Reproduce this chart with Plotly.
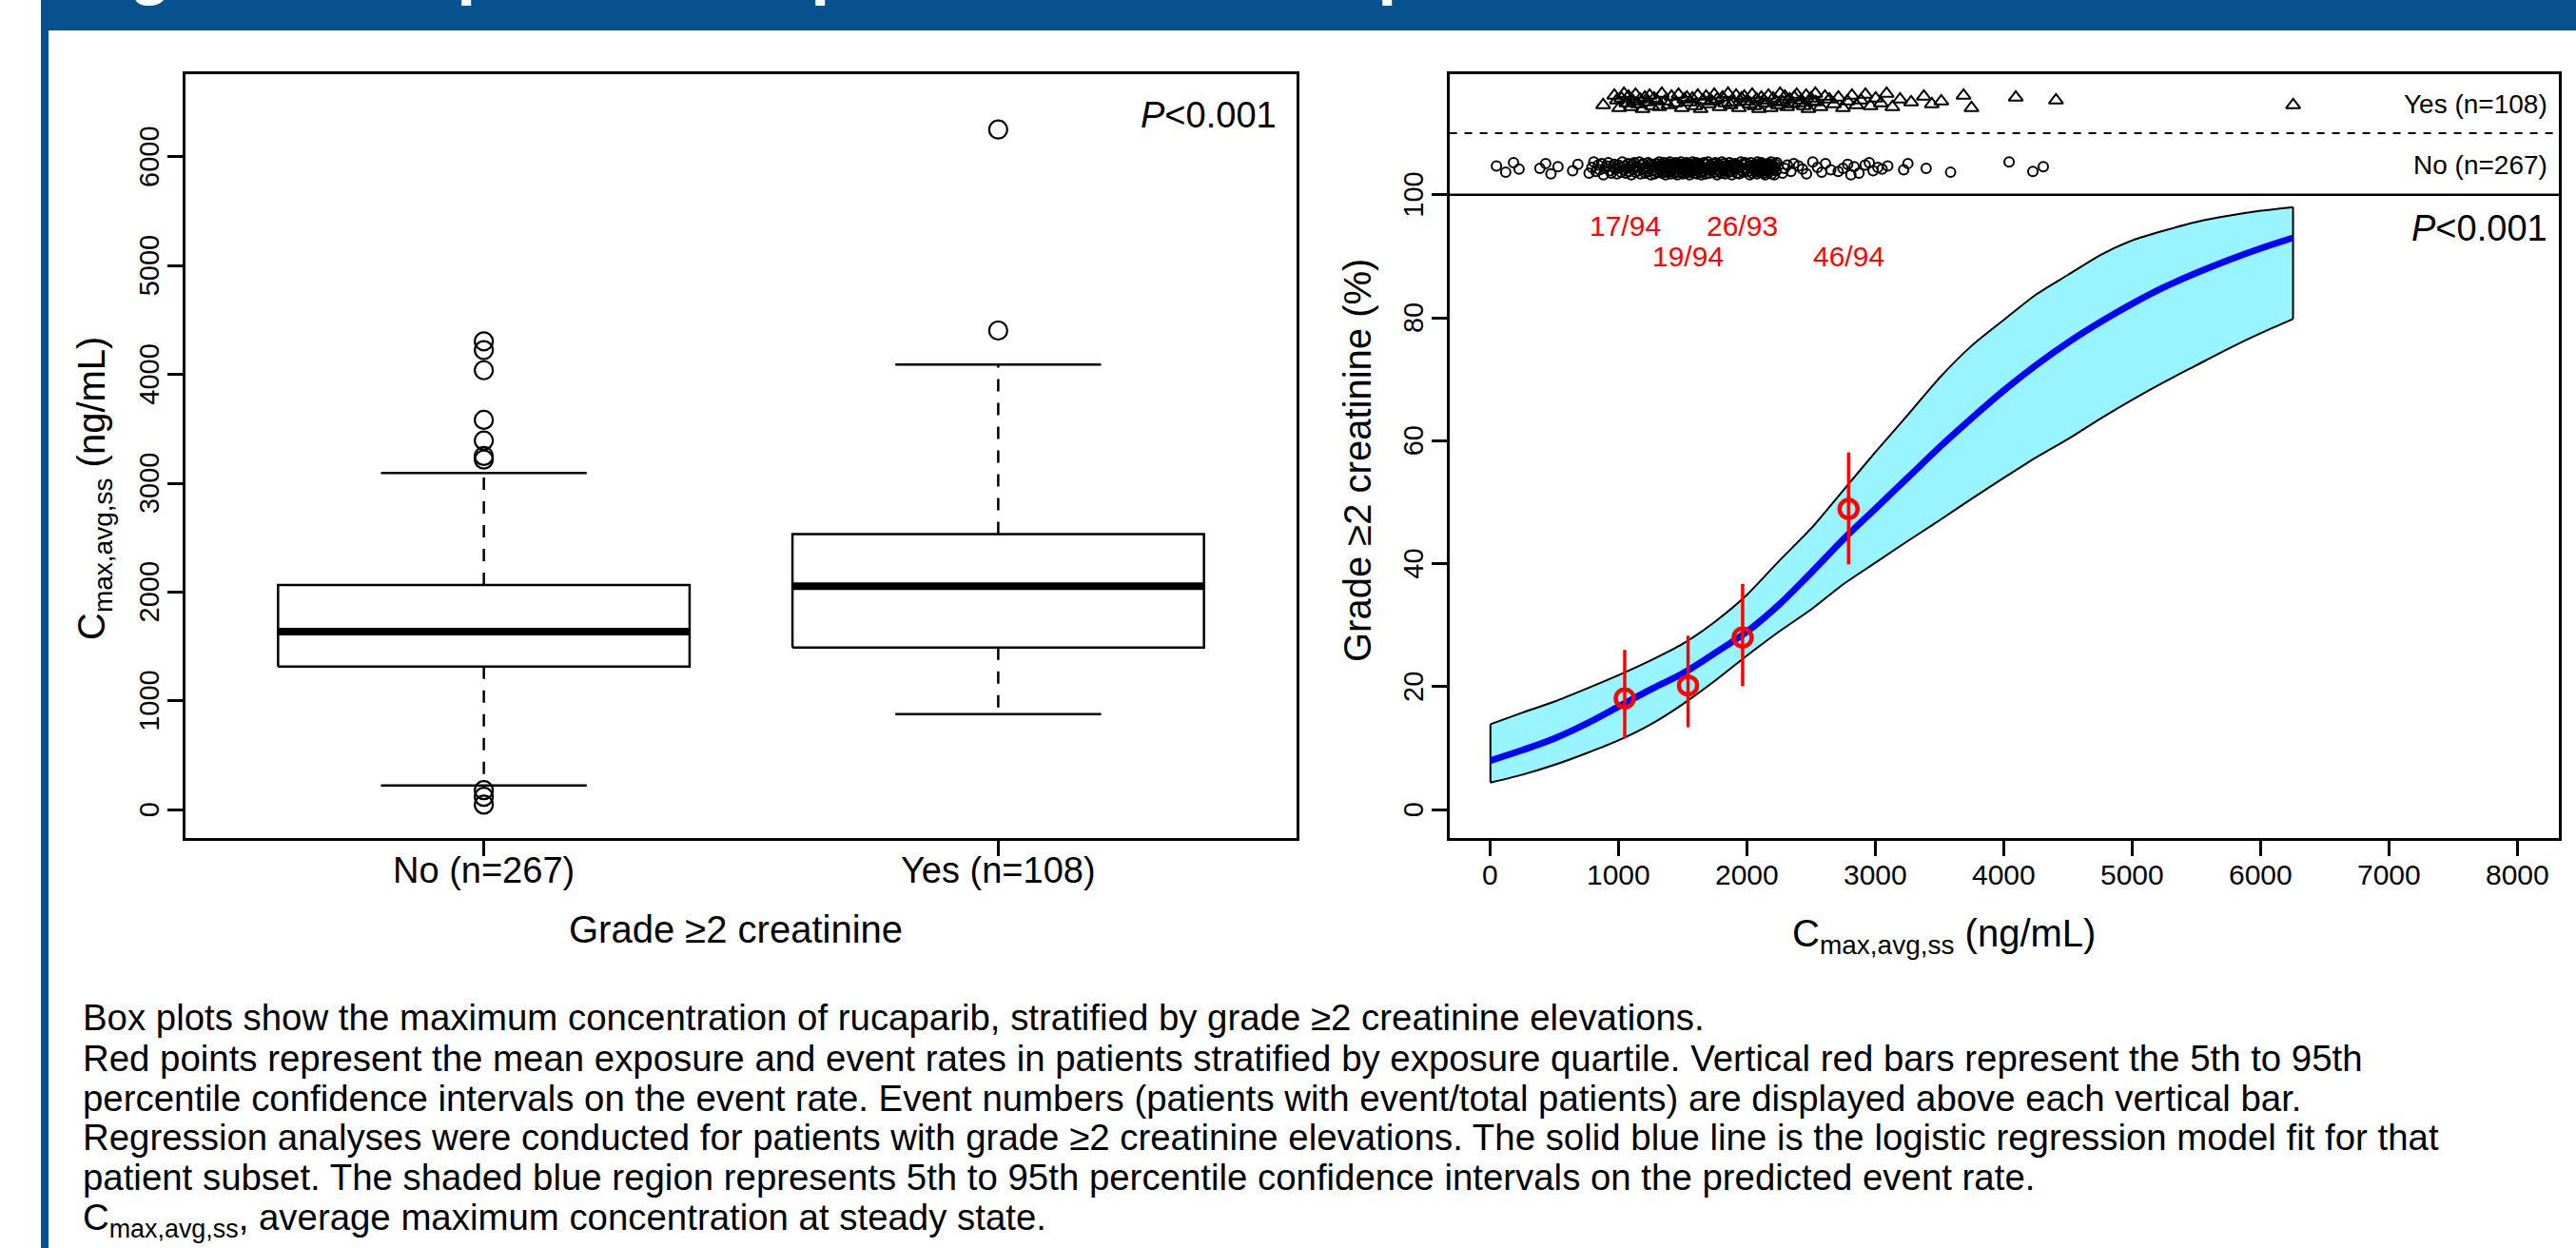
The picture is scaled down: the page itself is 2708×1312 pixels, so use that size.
import plotly.graph_objects as go

W, H = 2708, 1312
FONT = "Liberation Sans, Arial, Helvetica, sans-serif"

# ---------------- data: left panel (box plot) ----------------
box_categories = ["No (n=267)", "Yes (n=108)"]
box_pos = [1, 2]
box_q1 = [1315, 1490]
box_median = [1637, 2055]
box_q3 = [2065, 2534]
box_whisker_low = [223, 878]
box_whisker_high = [3094, 4091]
box_outliers = [[47, 119, 180, 3218, 3251, 3393, 3583, 4039, 4224, 4305],
                [4404, 6251]]
left_yticks = [0, 1000, 2000, 3000, 4000, 5000, 6000]

# ---------------- data: right panel ----------------
right_xticks = [0, 1000, 2000, 3000, 4000, 5000, 6000, 7000, 8000]
right_yticks = [0, 20, 40, 60, 80, 100]

fit_x = [0, 250, 500, 750, 1000, 1250, 1500, 1750, 2000, 2250, 2500, 2750, 3000,
         3250, 3500, 3750, 4000, 4250, 4500, 4750, 5000, 5250, 5500, 5750, 6000, 6250]
fit_y = [8.0, 9.7, 11.6, 14.0, 16.8, 19.6, 22.2, 25.5, 29.0, 33.4, 38.6, 44.0, 49.0,
         54.0, 59.0, 63.7, 68.2, 72.3, 76.0, 79.3, 82.3, 85.0, 87.3, 89.4, 91.3, 93.0]
ci_upper = [13.9, 15.8, 17.6, 19.7, 21.9, 24.3, 27.0, 30.6, 35.0, 40.5, 45.8, 52.0, 58.2,
            64.2, 70.3, 75.5, 79.7, 83.8, 87.0, 90.2, 92.6, 94.2, 95.6, 96.6, 97.4, 98.0]
ci_lower = [4.4, 5.7, 7.3, 9.2, 11.3, 13.9, 17.2, 21.0, 25.1, 29.0, 32.6, 36.7, 40.2,
            43.7, 47.1, 50.6, 54.0, 57.3, 60.3, 63.6, 66.7, 69.6, 72.3, 75.0, 77.5, 79.8]

quart_x = [1046, 1539, 1964, 2789]
quart_rate = [18.1, 20.2, 28.0, 48.9]
quart_lo = [11.6, 13.4, 20.1, 39.9]
quart_hi = [26.0, 28.3, 36.7, 58.1]
quart_labels = ["17/94", "19/94", "26/93", "46/94"]

# individual exposures (strip at top of right panel)
no_cmax = [47, 119, 180, 223, 385, 430, 471, 526, 640, 681,
           768, 790, 805, 822, 840, 851, 866, 880, 893, 905,
           918, 930, 941, 952, 963, 975, 986, 997, 1008, 1018,
           1027, 1036, 1045, 1054, 1063, 1072, 1080, 1089, 1097, 1105,
           1113, 1121, 1129, 1137, 1145, 1152, 1160, 1168, 1175, 1183,
           1190, 1198, 1205, 1213, 1220, 1228, 1235, 1243, 1250, 1257,
           1264, 1271, 1278, 1285, 1292, 1300, 1308,
           1315, 1320, 1326, 1330, 1336, 1340, 1345, 1351, 1355, 1361,
           1364, 1370, 1374, 1379, 1385, 1389, 1394, 1398, 1404, 1408,
           1412, 1418, 1422, 1427, 1432, 1436, 1441, 1447, 1450, 1455,
           1461, 1465, 1469, 1475, 1479, 1484, 1489, 1493, 1498, 1503,
           1507, 1513, 1517, 1522, 1527, 1531, 1536, 1541, 1546, 1550,
           1555, 1559, 1564, 1570, 1574, 1579, 1584, 1588, 1593, 1598,
           1602, 1608, 1612, 1617, 1622, 1626, 1631,
           1637, 1643, 1650, 1656, 1663, 1668, 1675, 1681, 1688, 1694,
           1700, 1707, 1714, 1720, 1726, 1733, 1739, 1745, 1752, 1758,
           1765, 1771, 1777, 1784, 1790, 1797, 1803, 1809, 1816, 1822,
           1828, 1835, 1842, 1848, 1854, 1861, 1867, 1873, 1880, 1886,
           1893, 1899, 1905, 1912, 1918, 1925, 1931, 1937, 1944, 1950,
           1957, 1963, 1969, 1976, 1982, 1989, 1995, 2001, 2008, 2014,
           2021, 2027, 2033, 2040, 2046, 2052, 2059,
           2065, 2070, 2076, 2080, 2085, 2091, 2095, 2100, 2106, 2110,
           2115, 2121, 2125, 2130, 2136, 2140, 2145, 2151, 2155, 2160,
           2166, 2170, 2175, 2181, 2185, 2190, 2196, 2200, 2205, 2211,
           2215, 2220, 2226, 2230,
           2275, 2290, 2312, 2340, 2362, 2399, 2430, 2461, 2510, 2547,
           2580, 2609, 2650, 2708, 2745, 2782, 2807, 2832, 2870, 2918,
           2950, 2980, 3017, 3050, 3094,
           3218, 3251, 3393, 3583, 4039, 4224, 4305]
no_jitter = [3, -5, 7, -1, 0, 6, -7, 2, -3, 5, -6, 1, 8, -4, 4, -2, 6, -8, 0, 3,
             7, -3, -6, 2, 5, -1, -7, 4, 1, -5, 8, -2, 3, -6, 0, 6, -4, 2, -8, 5,
             -1, 7, -5, 3, -3, 1, 8, -7, 4, -2, 6, 0, -6, 2, -4, 7, -1, 5, -8, 3,
             -3, 4, -7, 1, 6, -5, 2, 8, -2, 0, 5, -6, 3, -1, 7, -4, 0, -8, 4, 2,
             -5, 6, 1, -3, 8, -7, 3, -2, 5, -1, 0, 4, -6, 7, -4, 2, -8, 6, -1, 3,
             4, -2, 8, -5, 1, -7, 5, 3, -3, 0, -6, 7, 2, -1, 6, -4, -8, 4, 1, -5,
             3, 8, -3, 0, -6, 5, -2, 7, -7, 2, -1, 4, 6, -5, 3, -8, 1, -4, 7, 0,
             -7, 5, -2, 8, 2, -6, 4, -3, 0, 6, 1, -5, 7, -1, -8, 3, 5, -4, 2, -6,
             8, 0, -3, 6, -7, 1, 4, -2, -5, 7, -4, 3, -8, 5, 0, -1, 6, 2, -6, 4,
             2, -7, 1, 8, -3, 5, -5, 0, 7, -2, 6, -1, -4, 3, -8, 7, 0, -6, 4, 1,
             -3, 5, 2, -7, 8, -2, 4, -5, 0, 6, 7, -4, -1, 3, -6, 1, -8, 5, 2, -3,
             0, 6, -5, 4, -2, 8, -7, 1, 3, -1, -8, 2, 5, -3, 7, -6, 0, 4, -4, 6,
             3, -1, -7, 8, 1, -5, 6, -2, -4, 0, 5, -8, 2, -6, 4, 7, -3, 1, -1, 3,
             -2, 6, 0, -5, 8, -4, 2]
yes_cmax = [878,
            965, 985, 1003, 1020, 1040, 1058, 1075, 1095, 1112, 1130,
            1148, 1165, 1185, 1203, 1220, 1240, 1258, 1275, 1295, 1315,
            1335, 1360, 1385, 1410, 1440, 1465,
            1490, 1510, 1530, 1552, 1573, 1595, 1615, 1637, 1658, 1680,
            1700, 1722, 1743, 1765, 1785, 1807, 1828, 1850, 1870, 1892,
            1913, 1935, 1955, 1977, 1998, 2018, 2038,
            2055, 2073, 2092, 2110, 2128, 2146, 2165, 2183, 2201, 2220,
            2238, 2256, 2275, 2293, 2311, 2330, 2348, 2366, 2385, 2403,
            2421, 2440, 2458, 2476, 2495, 2513, 2530,
            2534, 2570, 2605, 2640, 2675, 2710, 2745, 2780, 2815, 2850,
            2885, 2920, 2960, 3000, 3040, 3085, 3130, 3190,
            3276, 3375, 3437, 3511, 3684, 3746, 4091, 4404, 6251]
yes_jitter = [-4, 6, 1, -7, 3, 8, -2, 5, -6, 0, 7, -3, 2, -8, 4, -1, 6, -5, 3, 1,
              -6, 8, 0, -4, 5, -2, 7, -7, 2, 4, -1, 3, -5, 6, -8, 1, 5, -3, 0, 7,
              2, -6, 4, -2, 8, -4, -1, 6, -7, 3, 5, 0, -3, 7, -5, 2, -8, 4, 1, -2,
              6, -7, 3, 0, -4, 8, -1, 5, -6, 2, -3, 4, 7, -2, 1, -5, 6, -8, 3, 0,
              8, -1, -6, 5, 2, -3, 4, -7, 0, 6, -4, 1, 7, -5, 3, -2, 8, -6, 2, -1,
              5, -3, 0, 6, -7, 4, 1, -4]

caption_lines = [
    "Box plots show the maximum concentration of rucaparib, stratified by grade ≥2 creatinine elevations.",
    "Red points represent the mean exposure and event rates in patients stratified by exposure quartile. Vertical red bars represent the 5th to 95th",
    "percentile confidence intervals on the event rate. Event numbers (patients with event/total patients) are displayed above each vertical bar.",
    "Regression analyses were conducted for patients with grade ≥2 creatinine elevations. The solid blue line is the logistic regression model fit for that",
    "patient subset. The shaded blue region represents 5th to 95th percentile confidence intervals on the predicted event rate.",
    "C<sub>max,avg,ss</sub>, average maximum concentration at steady state.",
]


def px(x):
    return x / W


def py(y):
    return 1 - y / H


fig = go.Figure()

# ---------------- left panel traces ----------------
bx, by, mx, my, wx, wy, cx, cy = [], [], [], [], [], [], [], []
for p, q1, md, q3, lo, hi in zip(box_pos, box_q1, box_median, box_q3,
                                 box_whisker_low, box_whisker_high):
    bx += [p - 0.4, p + 0.4, p + 0.4, p - 0.4, p - 0.4, None]
    by += [q1, q1, q3, q3, q1, None]
    mx += [p - 0.4, p + 0.4, None]
    my += [md, md, None]
    wx += [p, p, None, p, p, None]
    wy += [q3, hi, None, q1, lo, None]
    cx += [p - 0.2, p + 0.2, None, p - 0.2, p + 0.2, None]
    cy += [hi, hi, None, lo, lo, None]

fig.add_trace(go.Scatter(x=wx, y=wy, mode="lines", xaxis="x", yaxis="y",
                         line=dict(color="black", width=2.5, dash="13px,12px"),
                         hoverinfo="skip", showlegend=False))
fig.add_trace(go.Scatter(x=cx, y=cy, mode="lines", xaxis="x", yaxis="y",
                         line=dict(color="black", width=2.5),
                         hoverinfo="skip", showlegend=False))
fig.add_trace(go.Scatter(x=bx, y=by, mode="lines", xaxis="x", yaxis="y",
                         line=dict(color="black", width=2.5),
                         hoverinfo="skip", showlegend=False))
fig.add_trace(go.Scatter(x=mx, y=my, mode="lines", xaxis="x", yaxis="y",
                         line=dict(color="black", width=8),
                         hoverinfo="skip", showlegend=False))
ox, oy = [], []
for p, outs in zip(box_pos, box_outliers):
    ox += [p] * len(outs)
    oy += outs
fig.add_trace(go.Scatter(x=ox, y=oy, mode="markers", xaxis="x", yaxis="y",
                         marker=dict(symbol="circle-open", size=19, color="black",
                                     line=dict(width=2.2)),
                         showlegend=False))

# ---------------- right panel traces ----------------
fig.add_trace(go.Scatter(x=fit_x, y=ci_lower, mode="lines",
                         line=dict(color="black", width=2, shape="spline", smoothing=0.6),
                         xaxis="x2", yaxis="y2", hoverinfo="skip", showlegend=False))
fig.add_trace(go.Scatter(x=fit_x, y=ci_upper, mode="lines", fill="tonexty", fillcolor="#98F5FF",
                         line=dict(color="black", width=2, shape="spline", smoothing=0.6),
                         xaxis="x2", yaxis="y2", hoverinfo="skip", showlegend=False))
fig.add_trace(go.Scatter(x=[fit_x[0], fit_x[0], None, fit_x[-1], fit_x[-1]],
                         y=[ci_lower[0], ci_upper[0], None, ci_lower[-1], ci_upper[-1]],
                         mode="lines", line=dict(color="black", width=2),
                         xaxis="x2", yaxis="y2", hoverinfo="skip", showlegend=False))
fig.add_trace(go.Scatter(x=fit_x, y=fit_y, mode="lines",
                         line=dict(color="#0000FF", width=7, shape="spline"),
                         xaxis="x2", yaxis="y2", showlegend=False))
ex, ey = [], []
for x, lo, hi in zip(quart_x, quart_lo, quart_hi):
    ex += [x, x, None]
    ey += [lo, hi, None]
fig.add_trace(go.Scatter(x=ex, y=ey, mode="lines", line=dict(color="#FF0000", width=3.5),
                         xaxis="x2", yaxis="y2", hoverinfo="skip", showlegend=False))
fig.add_trace(go.Scatter(x=quart_x, y=quart_rate, mode="markers",
                         marker=dict(symbol="circle-open", size=19, color="#FF0000",
                                     line=dict(width=4.5)),
                         xaxis="x2", yaxis="y2", showlegend=False))

label_levels = [95, 90]
for i, (x, t) in enumerate(zip(quart_x, quart_labels)):
    fig.add_annotation(x=x, y=label_levels[i % 2], xref="x2", yref="y2", text=t,
                       showarrow=False, font=dict(family=FONT, size=30, color="#FF0000"),
                       xanchor="center", yanchor="middle")

# strip of individual exposures
NO_LEVEL, YES_LEVEL, JIT = 104.3, 115.2, 0.13
fig.add_trace(go.Scatter(x=no_cmax, y=[NO_LEVEL + j * JIT for j in no_jitter],
                         mode="markers", xaxis="x2", yaxis="y2",
                         marker=dict(symbol="circle-open", size=10, color="black",
                                     line=dict(width=2)),
                         showlegend=False))
fig.add_trace(go.Scatter(x=yes_cmax, y=[YES_LEVEL + j * JIT * 1.2 for j in yes_jitter],
                         mode="markers", xaxis="x2", yaxis="y2",
                         marker=dict(symbol="triangle-up-open", size=13, color="black",
                                     line=dict(width=2)),
                         showlegend=False))

# ---------------- axes ----------------
Y_TOP, Y_BOT = 78, 881
common = dict(showline=True, mirror=True, linecolor="black", linewidth=2.5,
              ticks="outside", ticklen=16, tickwidth=2.5, tickcolor="black",
              showgrid=False, zeroline=False, showticklabels=False, tickmode="array")

fig.update_layout(
    xaxis=dict(domain=[px(195), px(1363)], range=[0.42, 2.58], tickvals=box_pos,
               anchor="y", **common),
    yaxis=dict(domain=[py(Y_BOT), py(Y_TOP)], range=[-260, 6760], tickvals=left_yticks,
               anchor="x", **common),
    xaxis2=dict(domain=[px(1523.6), px(2690)], range=[-320, 8320], tickvals=right_xticks,
                anchor="y2", **common),
    yaxis2=dict(domain=[py(Y_BOT), py(Y_TOP)], range=[-4.6, 119.6], tickvals=right_yticks,
                anchor="x2", **common),
)

# tick labels
for v, t in zip(box_pos, box_categories):
    fig.add_annotation(x=v, xref="x", y=py(915), yref="paper", text=t, showarrow=False,
                       xanchor="center", yanchor="middle",
                       font=dict(family=FONT, size=38, color="black"))
for v in left_yticks:
    fig.add_annotation(y=v, yref="y", x=px(157), xref="paper", text=str(v), showarrow=False,
                       xanchor="center", yanchor="middle", textangle=-90,
                       font=dict(family=FONT, size=29, color="black"))
for v in right_xticks:
    fig.add_annotation(x=v, xref="x2", y=py(919), yref="paper", text=str(v), showarrow=False,
                       xanchor="center", yanchor="middle",
                       font=dict(family=FONT, size=30, color="black"))
for v in right_yticks:
    fig.add_annotation(y=v, yref="y2", x=px(1486), xref="paper", text=str(v), showarrow=False,
                       xanchor="center", yanchor="middle", textangle=-90,
                       font=dict(family=FONT, size=29, color="black"))

# divider lines in the right panel
fig.add_shape(type="line", xref="x2 domain", yref="y2", x0=0, x1=1, y0=100, y1=100,
              line=dict(color="black", width=2.5))
fig.add_shape(type="line", xref="x2 domain", yref="y2", x0=0, x1=1, y0=110, y1=110,
              line=dict(color="black", width=2, dash="8px,8px"))

# banner and left stripe
BLUE = "#07518F"
fig.add_shape(type="rect", xref="paper", yref="paper", x0=px(43), x1=1, y0=py(32), y1=1.01,
              line=dict(width=0), fillcolor=BLUE, layer="below")
fig.add_shape(type="rect", xref="paper", yref="paper", x0=px(43), x1=px(51), y0=-0.01, y1=py(32),
              line=dict(width=0), fillcolor=BLUE, layer="below")
fig.add_annotation(xref="paper", yref="paper", x=px(70), y=py(8), xanchor="left", yanchor="bottom",
                   text="<b>Figure 4. Exposure-response relationship</b>", showarrow=False,
                   font=dict(family=FONT, size=72, color="white"))


# text annotations
def ann(x, y, text, size, **kw):
    fig.add_annotation(xref="paper", yref="paper", x=px(x), y=py(y), text=text,
                       showarrow=False, font=dict(family=FONT, size=size, color="black"), **kw)


ann(1344, 121, "<i>P</i>&lt;0.001", 38, xanchor="right", yanchor="middle")
ann(2680, 240, "<i>P</i>&lt;0.001", 38, xanchor="right", yanchor="middle")
ann(2680, 109, "Yes (n=108)", 28, xanchor="right", yanchor="middle")
ann(2680, 174, "No (n=267)", 28, xanchor="right", yanchor="middle")

ann(773, 977, "Grade ≥2 creatinine", 40, xanchor="center", yanchor="middle")
ann(99, 513, "C<sub>max,avg,ss</sub> (ng/mL)", 40, xanchor="center", yanchor="middle", textangle=-90)
ann(1427, 484, "Grade ≥2 creatinine (%)", 40, xanchor="center", yanchor="middle", textangle=-90)
ann(2044, 984, "C<sub>max,avg,ss</sub> (ng/mL)", 40, xanchor="center", yanchor="middle")

baselines = [1081.7, 1125, 1166.7, 1208.3, 1250, 1291.7]
for base, line in zip(baselines, caption_lines):
    ann(85, base - 36, line, 38.4, xanchor="left", yanchor="top")

fig.update_layout(width=W, height=H, margin=dict(l=0, r=0, t=0, b=0),
                  paper_bgcolor="white", plot_bgcolor="white", showlegend=False,
                  font=dict(family=FONT, color="black"))

fig.write_html("out.html")
